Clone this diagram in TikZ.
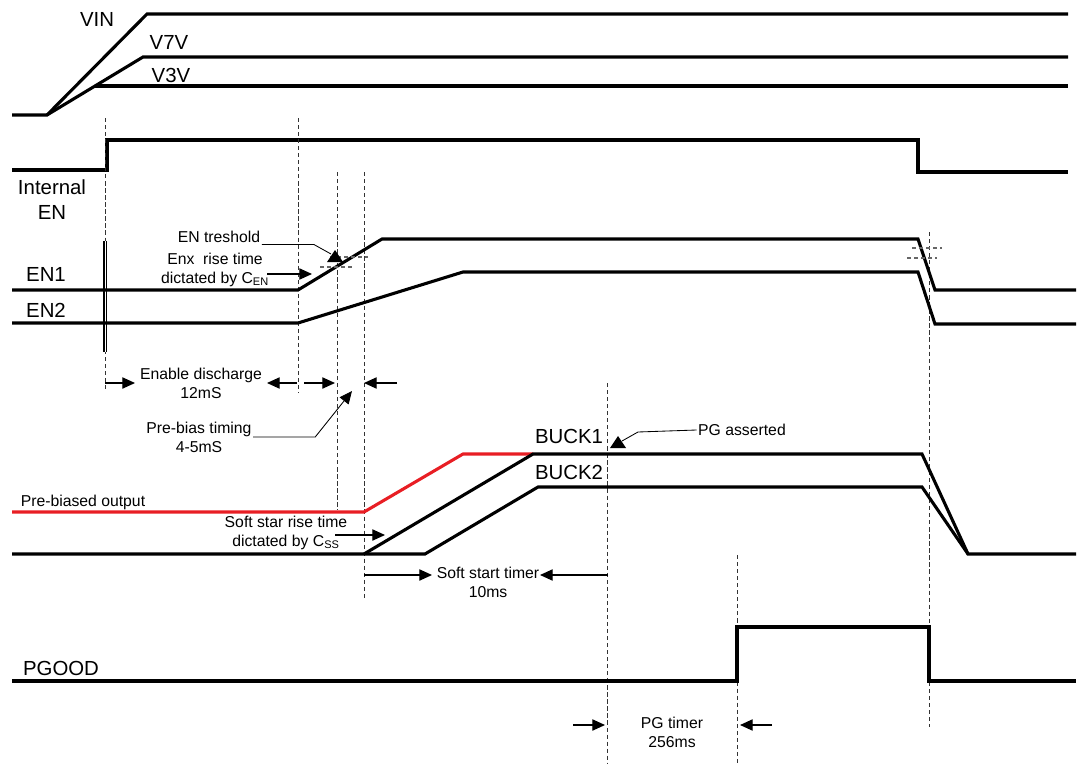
\documentclass[tikz,border=0pt]{standalone}
\usepackage{fontspec}
\setmainfont{Liberation Sans}
\usetikzlibrary{arrows.meta}
\definecolor{biasred}{RGB}{232,30,36}
\tikzset{
  wave/.style={line width=2.2pt, line join=miter},
  guide/.style={black!80, line width=0.55pt, dash pattern=on 3pt off 2pt},
  thrmark/.style={black!60, line width=0.8pt, dash pattern=on 3pt off 2pt},
  dimarrow/.style={-{Triangle[length=9pt,width=8pt]}, line width=0.9pt},
  leader/.style={line width=0.6pt},
  lbl/.style={font=\fontsize{11.2}{13.5}\selectfont, align=center, inner sep=1pt},
  siglbl/.style={font=\fontsize{14.5}{17.7}\selectfont, align=center, inner sep=1pt}
}
\begin{document}
\begin{tikzpicture}[x=0.025cm, y=-0.025cm]
    \useasboundingbox (0,0) rectangle (1078,763);

    %Supply rails
    \draw[wave] (12,115) -- (47,115) -- (147,14) -- (1068,14);
    \draw[wave] (47,115) -- (143,57) -- (1068,57);
    \draw[wave] (95,86) -- (1068,86);
    \node[siglbl] (vin) at (97,19) {VIN};
    \node[siglbl] (v7v) at (169,42) {V7V};
    \node[siglbl] (v3v) at (171,75) {V3V};

    %Internal enable
    \draw[wave] (12,170) -- (107,170) -- (107,140) -- (918,140) -- (918,172) -- (1068,172);
    \node[siglbl] (inten) at (52,200) {Internal\\EN};

    %Time markers
    \draw[guide] (105,118) -- (105,392);
    \draw[guide] (298,118) -- (298,393);
    \draw[guide] (337,172) -- (337,510);
    \draw[guide] (364,172) -- (364,598);
    \draw[guide] (607,383) -- (607,763);
    \draw[guide] (737,555) -- (737,763);
    \draw[guide] (929,232) -- (929,727);
    \draw[line width=0.9pt, double distance=0.5pt] (105,241) -- (105,352);

    %EN1 and EN2
    \draw[wave] (12,290) -- (298,290) -- (382,239) -- (918,239) -- (935,290) -- (1076,290);
    \draw[wave] (12,323) -- (298,323) -- (463,272) -- (918,272) -- (935,324) -- (1076,324);
    \node[siglbl] (en1) at (46,274) {EN1};
    \node[siglbl] (en2) at (46,310) {EN2};

    %Threshold marks
    \draw[thrmark] (320,267) -- (352,267);
    \draw[thrmark] (330,257) -- (368,257);
    \draw[thrmark] (907,258) -- (937,258);
    \draw[thrmark] (912,248) -- (942,248);

    %EN notes
    \node[lbl] (thrlbl) at (219,237) {EN treshold};
    \coordinate (thrend) at (331,254);
    \draw[leader] (thrlbl.south east) -- ++(52,0) -- (thrend);
    \fill (327,262) -- (335,250) -- (343,262) -- cycle;
    \node[lbl] (enxlbl) at (215,270) {Enx\ \ rise time\\dictated by C\textsubscript{EN}};
    \coordinate (enxfrom) at (267,274);
    \coordinate (enxto) at (312,274);
    \draw[dimarrow] (enxfrom) -- (enxto);

    %Discharge and pre-bias timing
    \node[lbl] (dislbl) at (201,383) {Enable discharge\\12mS};
    \draw[dimarrow] (105,383) -- (135,383);
    \draw[dimarrow] (297,383) -- (267,383);
    \draw[dimarrow] (304,383) -- (335,383);
    \draw[dimarrow] (397,383) -- (364,383);
    \node[lbl] (pblbl) at (199,437) {Pre-bias timing\\4-5mS};
    \coordinate (pbto) at (352,391);
    \draw[leader, -{Triangle[length=9pt,width=8pt]}] (pblbl.east) -- ++(62,0) -- (pbto);

    %Buck outputs
    \draw[wave, biasred] (12,512) -- (364,512) -- (463,454) -- (533,454);
    \draw[wave] (364,554) -- (533,454) -- (922,454) -- (968,554) -- (1076,554);
    \draw[wave] (12,554) -- (425,554) -- (538,487) -- (922,487) -- (968,554);
    \node[lbl] (pbout) at (83,502) {Pre-biased output};
    \node[siglbl] (buck1) at (569,436) {BUCK1};
    \node[siglbl] (buck2) at (569,472) {BUCK2};

    %Soft start notes
    \node[lbl] (sslbl) at (286,533) {Soft star rise time\\dictated by C\textsubscript{SS}};
    \coordinate (ssfrom) at (335,535);
    \coordinate (ssto) at (385,535);
    \draw[dimarrow] (ssfrom) -- (ssto);
    \node[lbl] (sstlbl) at (488,582) {Soft start timer\\10ms};
    \draw[dimarrow] (364,575) -- (432,575);
    \draw[dimarrow] (608,575) -- (540,575);

    %PG asserted
    \node[lbl] (pgalbl) at (742,430) {PG asserted};
    \coordinate (pgaend) at (622,441);
    \draw[leader] (pgalbl.west) -- (638,432) -- (pgaend);
    \fill (610,448) -- (618,436) -- (626,448) -- cycle;

    %PGOOD
    \draw[wave] (12,681) -- (737,681) -- (737,627) -- (929,627) -- (929,681) -- (1076,681);
    \node[siglbl] (pgood) at (61,668) {PGOOD};
    \node[lbl] (pgtlbl) at (672,732) {PG timer\\256ms};
    \draw[dimarrow] (573,725) -- (605,725);
    \draw[dimarrow] (772,725) -- (740,725);
\end{tikzpicture}
\end{document}
